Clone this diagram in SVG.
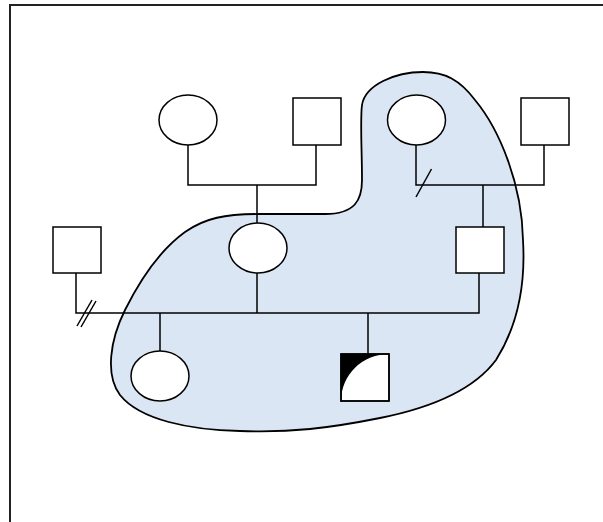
<svg xmlns="http://www.w3.org/2000/svg" width="603" height="522" viewBox="0 0 603 522">
<style>
.n{fill:#fff;stroke:#000;stroke-width:1.5}
.c{fill:none;stroke:#000;stroke-width:1.5}
</style>
<rect x="0" y="0" width="603" height="522" fill="#fff"/>
<rect x="10" y="5" width="610" height="540" fill="none" stroke="#222" stroke-width="2"/>
<g id="household">
<path d="M423,72 C445,72 460,80 475,100 C500,130 522,185 523,240 C526,290 515,330 496,360 C470,395 420,410 380,418 C330,428 290,433 240,431 C190,430 140,420 120,395 C105,375 110,340 125,310 C140,280 160,250 185,232 C205,218 225,214 260,214 L325,214 C355,214 362,200 362,180 C362,150 360,120 362,105 C365,85 395,72 423,72 Z" fill="#dbe6f4" stroke="#000" stroke-width="1.8"/>
</g>
<g id="connectors">
<polyline class="c" points="188,145 188,185 316,185 316,145"/>
<line class="c" x1="257" y1="185" x2="257" y2="223"/>
<polyline class="c" points="416,145 416,185 544,185 544,145"/>
<line class="c" x1="431.5" y1="169" x2="416" y2="197"/>
<line class="c" x1="483" y1="185" x2="483" y2="227"/>
<polyline class="c" points="76,273 76,313 479,313 479,273"/>
<line class="c" x1="257" y1="273" x2="257" y2="313"/>
<line class="c" x1="77" y1="326" x2="92" y2="300"/>
<line class="c" x1="81" y1="327" x2="96" y2="301"/>
<line class="c" x1="160" y1="313" x2="160" y2="351"/>
<line class="c" x1="368" y1="313" x2="368" y2="354"/>
</g>
<g id="grandmother-left"><ellipse class="n" cx="188" cy="120" rx="29" ry="25"/></g>
<g id="grandfather-left"><rect class="n" x="293" y="98" width="48" height="47"/></g>
<g id="grandmother-right"><ellipse class="n" cx="416.5" cy="120" rx="29" ry="25"/></g>
<g id="grandfather-right"><rect class="n" x="521" y="98" width="48" height="47"/></g>
<g id="ex-husband"><rect class="n" x="53" y="227" width="48" height="46"/></g>
<g id="mother"><ellipse class="n" cx="258" cy="248" rx="29" ry="25"/></g>
<g id="father"><rect class="n" x="456" y="227" width="48" height="46"/></g>
<g id="daughter"><ellipse class="n" cx="160" cy="376" rx="29" ry="25"/></g>
<g id="son">
<rect class="n" x="341" y="354" width="48" height="47"/>
<path d="M341,354 H389 A48,47 0 0 0 341,401 Z" fill="#000"/>
<rect x="341" y="354" width="48" height="47" fill="none" stroke="#000" stroke-width="1.5"/>
</g>
</svg>
